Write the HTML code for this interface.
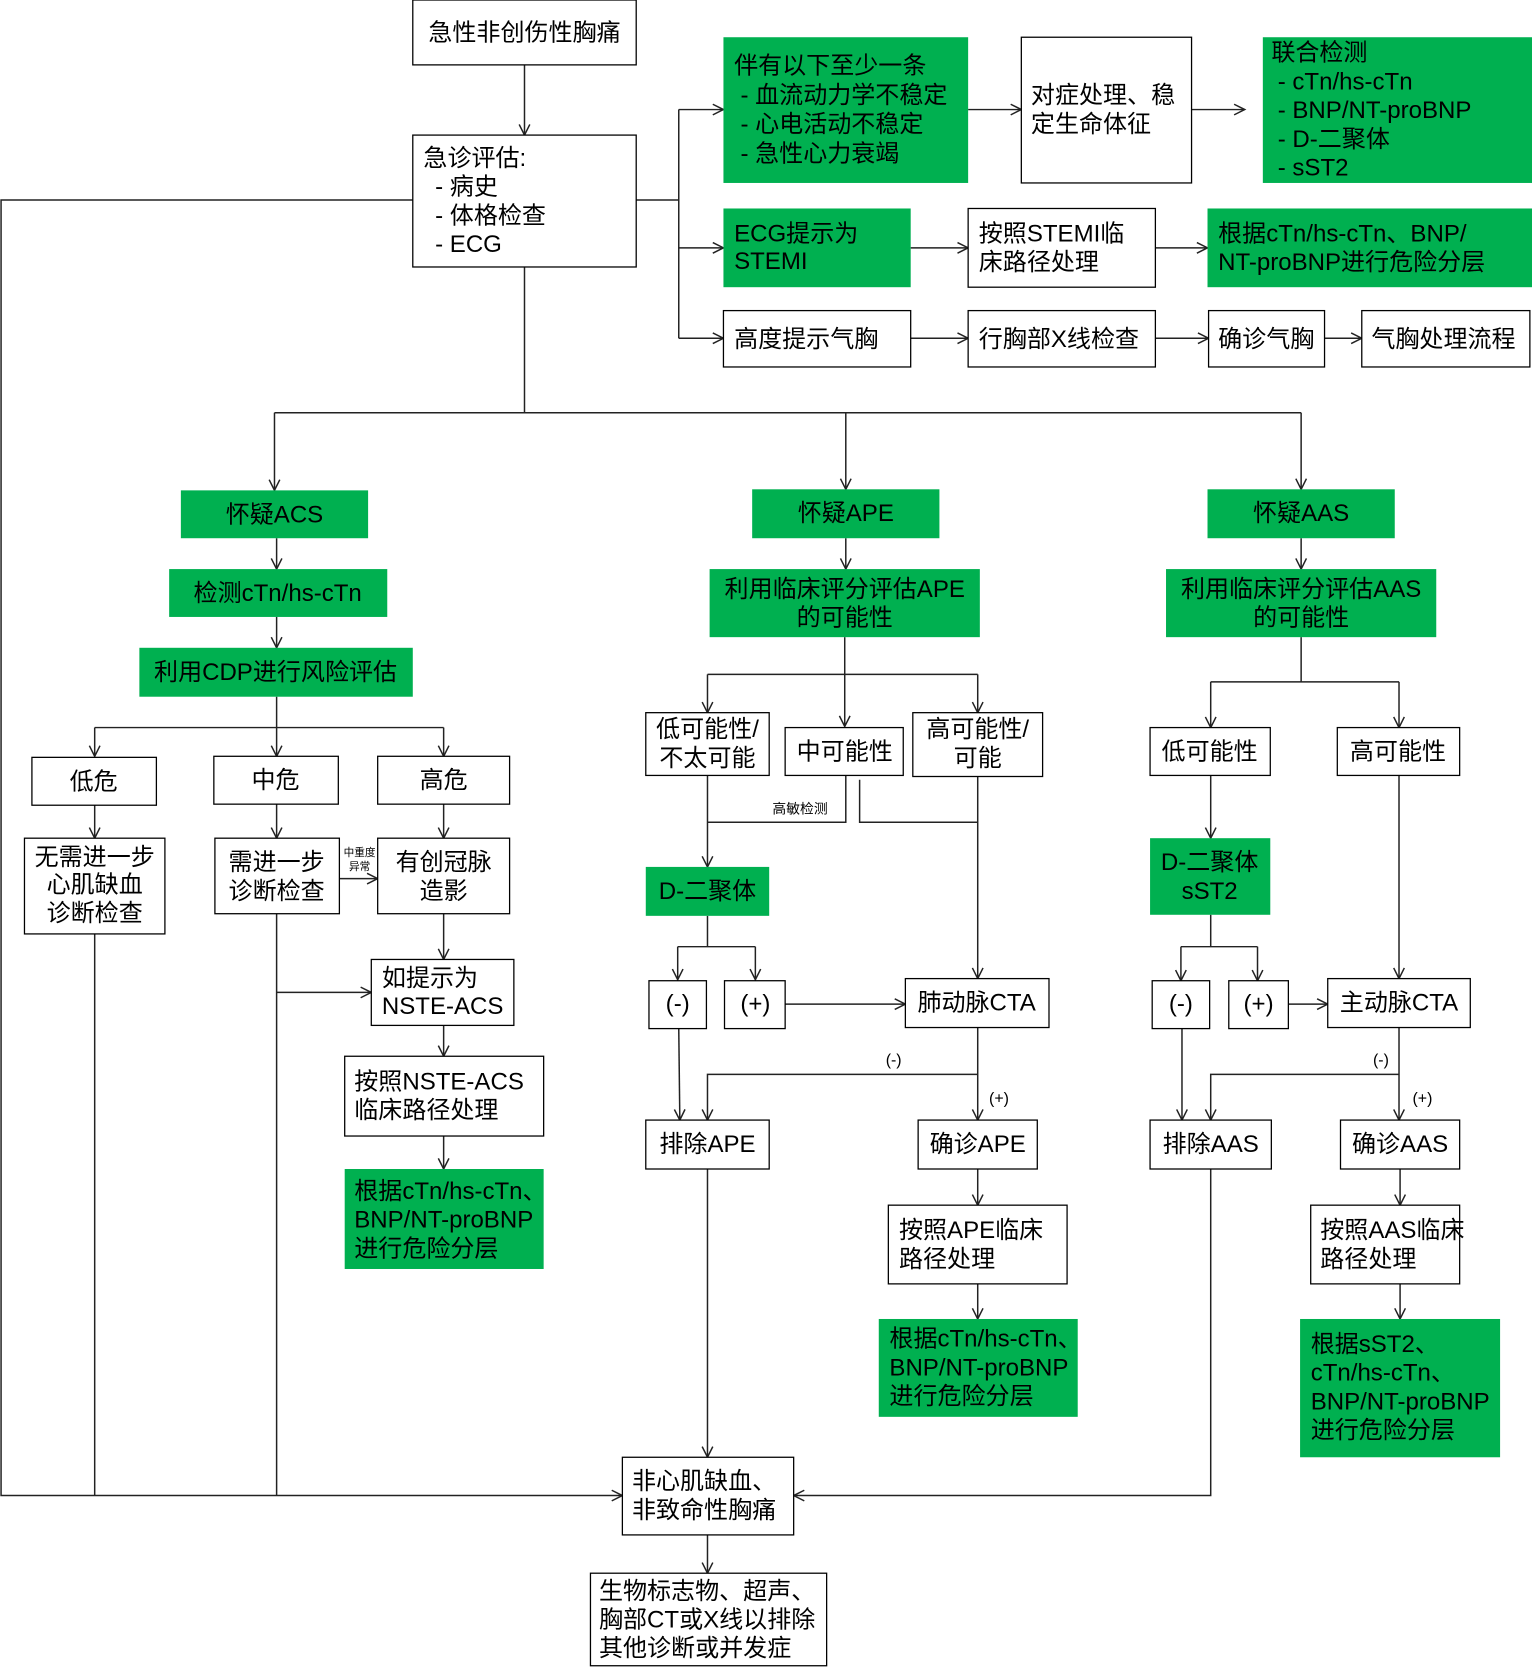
<!DOCTYPE html>
<html><head><meta charset="utf-8"><style>
html,body{margin:0;padding:0;background:#fff;}
svg{display:block;}
text{font-family:"Liberation Sans","Noto Sans CJK SC",sans-serif;font-size:22.6px;fill:#000;dominant-baseline:central;}
.c{text-anchor:middle;}
.s{font-size:13px;}
.t{font-size:10px;}
.p{font-size:15px;}
rect.w{fill:#fff;stroke:#000;stroke-width:1.2;}
rect.g{fill:#00B050;stroke:none;}
path.l{fill:none;stroke:#222;stroke-width:1.4;}
</style></head><body>
<svg width="1532" height="1670" viewBox="0 0 1440 1570" preserveAspectRatio="none">
<defs><marker id="a" markerUnits="userSpaceOnUse" markerWidth="14" markerHeight="14" refX="11" refY="6" orient="auto"><path d="M1,1 L11,6 L1,11" fill="none" stroke="#222" stroke-width="1.4"/></marker></defs>

<g class="conn">
<path class="l" d="M493,61 V127" marker-end="url(#a)"/>
<path class="l" d="M598,188 H638 M638,103 V318"/>
<path class="l" d="M638,103 H680" marker-end="url(#a)"/>
<path class="l" d="M638,233 H680" marker-end="url(#a)"/>
<path class="l" d="M638,318 H680" marker-end="url(#a)"/>
<path class="l" d="M910,103 H960" marker-end="url(#a)"/>
<path class="l" d="M1120,103 H1170" marker-end="url(#a)"/>
<path class="l" d="M856,233 H910" marker-end="url(#a)"/>
<path class="l" d="M1086,233 H1135" marker-end="url(#a)"/>
<path class="l" d="M856,318 H910" marker-end="url(#a)"/>
<path class="l" d="M1086,318 H1136" marker-end="url(#a)"/>
<path class="l" d="M1245,318 H1280" marker-end="url(#a)"/>
<path class="l" d="M388,188 H1 V1406 H585" marker-end="url(#a)"/>
<path class="l" d="M493,251 V388 M258,388 H1223"/>
<path class="l" d="M258,388 V461" marker-end="url(#a)"/>
<path class="l" d="M795,388 V460" marker-end="url(#a)"/>
<path class="l" d="M1223,388 V460" marker-end="url(#a)"/>
<path class="l" d="M260,506 V535" marker-end="url(#a)"/>
<path class="l" d="M260,580 V609" marker-end="url(#a)"/>
<path class="l" d="M260,655 V711" marker-end="url(#a)"/>
<path class="l" d="M89,684 H417"/>
<path class="l" d="M89,684 V711" marker-end="url(#a)"/>
<path class="l" d="M417,684 V711" marker-end="url(#a)"/>
<path class="l" d="M89,757 V788" marker-end="url(#a)"/>
<path class="l" d="M260,756 V788" marker-end="url(#a)"/>
<path class="l" d="M417,756 V788" marker-end="url(#a)"/>
<path class="l" d="M319,826 H355" marker-end="url(#a)"/>
<path class="l" d="M417,859 V902" marker-end="url(#a)"/>
<path class="l" d="M260,859 V1406 M89,878 V1406"/>
<path class="l" d="M260,933 H349" marker-end="url(#a)"/>
<path class="l" d="M417,964 V993" marker-end="url(#a)"/>
<path class="l" d="M417,1068 V1099" marker-end="url(#a)"/>
<path class="l" d="M795,506 V535" marker-end="url(#a)"/>
<path class="l" d="M794,599 V683" marker-end="url(#a)"/>
<path class="l" d="M665,634 H919"/>
<path class="l" d="M665,634 V670" marker-end="url(#a)"/>
<path class="l" d="M919,634 V670" marker-end="url(#a)"/>
<path class="l" d="M665,729 V815" marker-end="url(#a)"/>
<path class="l" d="M795,729 V773 H665"/>
<path class="l" d="M808,733 V773 H919"/>
<path class="l" d="M919,730 V920" marker-end="url(#a)"/>
<path class="l" d="M665,861 V890 M637,890 H710"/>
<path class="l" d="M637,890 V921" marker-end="url(#a)"/>
<path class="l" d="M710,890 V921" marker-end="url(#a)"/>
<path class="l" d="M738,944 H851" marker-end="url(#a)"/>
<path class="l" d="M638,967 L639,1053" marker-end="url(#a)"/>
<path class="l" d="M919,966 V1053" marker-end="url(#a)"/>
<path class="l" d="M919,1010 H665 V1053" marker-end="url(#a)"/>
<path class="l" d="M919,1099 V1133" marker-end="url(#a)"/>
<path class="l" d="M919,1207 V1240" marker-end="url(#a)"/>
<path class="l" d="M665,1099 V1370" marker-end="url(#a)"/>
<path class="l" d="M1223,506 V535" marker-end="url(#a)"/>
<path class="l" d="M1223,599 V641 M1138,641 H1315"/>
<path class="l" d="M1138,641 V684" marker-end="url(#a)"/>
<path class="l" d="M1315,641 V684" marker-end="url(#a)"/>
<path class="l" d="M1138,729 V788" marker-end="url(#a)"/>
<path class="l" d="M1138,860 V890 M1110,890 H1182"/>
<path class="l" d="M1110,890 V922" marker-end="url(#a)"/>
<path class="l" d="M1182,890 V922" marker-end="url(#a)"/>
<path class="l" d="M1211,944 H1248" marker-end="url(#a)"/>
<path class="l" d="M1315,729 V920" marker-end="url(#a)"/>
<path class="l" d="M1111,967 V1053" marker-end="url(#a)"/>
<path class="l" d="M1315,966 V1053" marker-end="url(#a)"/>
<path class="l" d="M1315,1010 H1138 V1053" marker-end="url(#a)"/>
<path class="l" d="M1316,1099 V1133" marker-end="url(#a)"/>
<path class="l" d="M1316,1207 V1240" marker-end="url(#a)"/>
<path class="l" d="M1138,1099 V1406 H746" marker-end="url(#a)"/>
<path class="l" d="M665,1443 V1479" marker-end="url(#a)"/>
</g>

<rect class="w" x="388" y="0" width="210" height="61"/><text class="c" x="493" y="31">急性非创伤性胸痛</text>
<rect class="w" x="388" y="127" width="210" height="124"/>
<text x="398" y="149">急诊评估:</text><text x="409" y="176">- 病史</text><text x="409" y="203">- 体格检查</text><text x="409" y="230">- ECG</text>
<rect class="g" x="680" y="35" width="230" height="137"/>
<text x="690" y="62">伴有以下至少一条</text><text x="696" y="90">- 血流动力学不稳定</text><text x="696" y="117">- 心电活动不稳定</text><text x="696" y="145">- 急性心力衰竭</text>
<rect class="w" x="960" y="35" width="160" height="137"/><text x="969" y="90">对症处理、稳</text><text x="969" y="117">定生命体征</text>
<rect class="g" x="1187" y="35" width="253" height="137"/>
<text x="1195" y="50">联合检测</text><text x="1201" y="77">- cTn/hs-cTn</text><text x="1201" y="104">- BNP/NT-proBNP</text><text x="1201" y="131">- D-二聚体</text><text x="1201" y="158">- sST2</text>
<rect class="g" x="680" y="196" width="176" height="74"/><text x="690" y="220">ECG提示为</text><text x="690" y="246">STEMI</text>
<rect class="w" x="910" y="196" width="176" height="74"/><text x="920" y="220">按照STEMI临</text><text x="920" y="247">床路径处理</text>
<rect class="g" x="1135" y="196" width="305" height="74"/><text x="1145" y="220">根据cTn/hs-cTn、BNP/</text><text x="1145" y="247">NT-proBNP进行危险分层</text>
<rect class="w" x="680" y="292" width="176" height="53"/><text x="690" y="319">高度提示气胸</text>
<rect class="w" x="910" y="292" width="176" height="53"/><text x="920" y="319">行胸部X线检查</text>
<rect class="w" x="1136" y="292" width="109" height="53"/><text x="1145" y="319">确诊气胸</text>
<rect class="w" x="1280" y="292" width="158" height="53"/><text x="1289" y="319">气胸处理流程</text>

<rect class="g" x="170" y="461" width="176" height="45"/><text class="c" x="258" y="484">怀疑ACS</text>
<rect class="g" x="159" y="535" width="205" height="45"/><text class="c" x="261" y="558">检测cTn/hs-cTn</text>
<rect class="g" x="131" y="609" width="257" height="46"/><text class="c" x="259" y="632">利用CDP进行风险评估</text>
<rect class="w" x="30" y="712" width="117" height="45"/><text class="c" x="88" y="735">低危</text>
<rect class="w" x="201" y="711" width="117" height="45"/><text class="c" x="259" y="734">中危</text>
<rect class="w" x="355" y="711" width="124" height="45"/><text class="c" x="417" y="734">高危</text>
<rect class="w" x="23" y="788" width="132" height="90"/><text class="c" x="89" y="806">无需进一步</text><text class="c" x="89" y="832">心肌缺血</text><text class="c" x="89" y="859">诊断检查</text>
<rect class="w" x="202" y="788" width="117" height="71"/><text class="c" x="260" y="811">需进一步</text><text class="c" x="260" y="838">诊断检查</text>
<rect class="w" x="355" y="788" width="124" height="71"/><text class="c" x="417" y="811">有创冠脉</text><text class="c" x="417" y="838">造影</text>
<text class="t c" x="338" y="802">中重度</text><text class="t c" x="338" y="815">异常</text>
<rect class="w" x="349" y="902" width="134" height="62"/><text x="359" y="920">如提示为</text><text x="359" y="946">NSTE-ACS</text>
<rect class="w" x="324" y="993" width="187" height="75"/><text x="333" y="1017">按照NSTE-ACS</text><text x="333" y="1044">临床路径处理</text>
<rect class="g" x="324" y="1099" width="187" height="94"/><text x="333" y="1120">根据cTn/hs-cTn、</text><text x="333" y="1147">BNP/NT-proBNP</text><text x="333" y="1174">进行危险分层</text>

<rect class="g" x="707" y="460" width="176" height="46"/><text class="c" x="795" y="483">怀疑APE</text>
<rect class="g" x="667" y="535" width="254" height="64"/><text class="c" x="794" y="554">利用临床评分评估APE</text><text class="c" x="794" y="581">的可能性</text>
<rect class="w" x="607" y="670" width="116" height="59"/><text class="c" x="665" y="686">低可能性/</text><text class="c" x="665" y="713">不太可能</text>
<rect class="w" x="738" y="684" width="111" height="45"/><text class="c" x="794" y="707">中可能性</text>
<rect class="w" x="858" y="670" width="122" height="60"/><text class="c" x="919" y="686">高可能性/</text><text class="c" x="919" y="713">可能</text>
<text class="s" x="726" y="760">高敏检测</text>
<rect class="g" x="607" y="815" width="116" height="46"/><text class="c" x="665" y="838">D-二聚体</text>
<rect class="w" x="610" y="922" width="54" height="45"/><text class="c" x="637" y="944">(-)</text>
<rect class="w" x="681" y="922" width="57" height="45"/><text class="c" x="710" y="944">(+)</text>
<rect class="w" x="851" y="920" width="135" height="46"/><text class="c" x="918" y="943">肺动脉CTA</text>
<text class="p c" x="840" y="997">(-)</text><text class="p c" x="939" y="1033">(+)</text>
<rect class="w" x="607" y="1053" width="116" height="46"/><text class="c" x="665" y="1076">排除APE</text>
<rect class="w" x="863" y="1053" width="112" height="46"/><text class="c" x="919" y="1076">确诊APE</text>
<rect class="w" x="835" y="1133" width="168" height="74"/><text x="845" y="1157">按照APE临床</text><text x="845" y="1184">路径处理</text>
<rect class="g" x="826" y="1240" width="187" height="92"/><text x="836" y="1259">根据cTn/hs-cTn、</text><text x="836" y="1286">BNP/NT-proBNP</text><text x="836" y="1313">进行危险分层</text>

<rect class="g" x="1135" y="460" width="176" height="46"/><text class="c" x="1223" y="483">怀疑AAS</text>
<rect class="g" x="1096" y="535" width="254" height="64"/><text class="c" x="1223" y="554">利用临床评分评估AAS</text><text class="c" x="1223" y="581">的可能性</text>
<rect class="w" x="1081" y="684" width="113" height="45"/><text class="c" x="1137" y="707">低可能性</text>
<rect class="w" x="1257" y="684" width="115" height="45"/><text class="c" x="1314" y="707">高可能性</text>
<rect class="g" x="1081" y="788" width="113" height="72"/><text class="c" x="1137" y="811">D-二聚体</text><text class="c" x="1137" y="838">sST2</text>
<rect class="w" x="1083" y="922" width="54" height="45"/><text class="c" x="1110" y="944">(-)</text>
<rect class="w" x="1155" y="922" width="56" height="45"/><text class="c" x="1183" y="944">(+)</text>
<rect class="w" x="1248" y="920" width="134" height="46"/><text class="c" x="1315" y="943">主动脉CTA</text>
<text class="p c" x="1298" y="997">(-)</text><text class="p c" x="1337" y="1033">(+)</text>
<rect class="w" x="1081" y="1053" width="114" height="46"/><text class="c" x="1138" y="1076">排除AAS</text>
<rect class="w" x="1260" y="1053" width="112" height="46"/><text class="c" x="1316" y="1076">确诊AAS</text>
<rect class="w" x="1232" y="1133" width="140" height="74"/><text x="1241" y="1157">按照AAS临床</text><text x="1241" y="1184">路径处理</text>
<rect class="g" x="1222" y="1240" width="188" height="130"/><text x="1232" y="1264">根据sST2、</text><text x="1232" y="1291">cTn/hs-cTn、</text><text x="1232" y="1318">BNP/NT-proBNP</text><text x="1232" y="1345">进行危险分层</text>

<rect class="w" x="585" y="1370" width="161" height="73"/><text x="594" y="1393">非心肌缺血、</text><text x="594" y="1420">非致命性胸痛</text>
<rect class="w" x="555" y="1479" width="222" height="87"/><text x="563" y="1496">生物标志物、超声、</text><text x="563" y="1523">胸部CT或X线以排除</text><text x="563" y="1550">其他诊断或并发症</text>
</svg>
</body></html>
